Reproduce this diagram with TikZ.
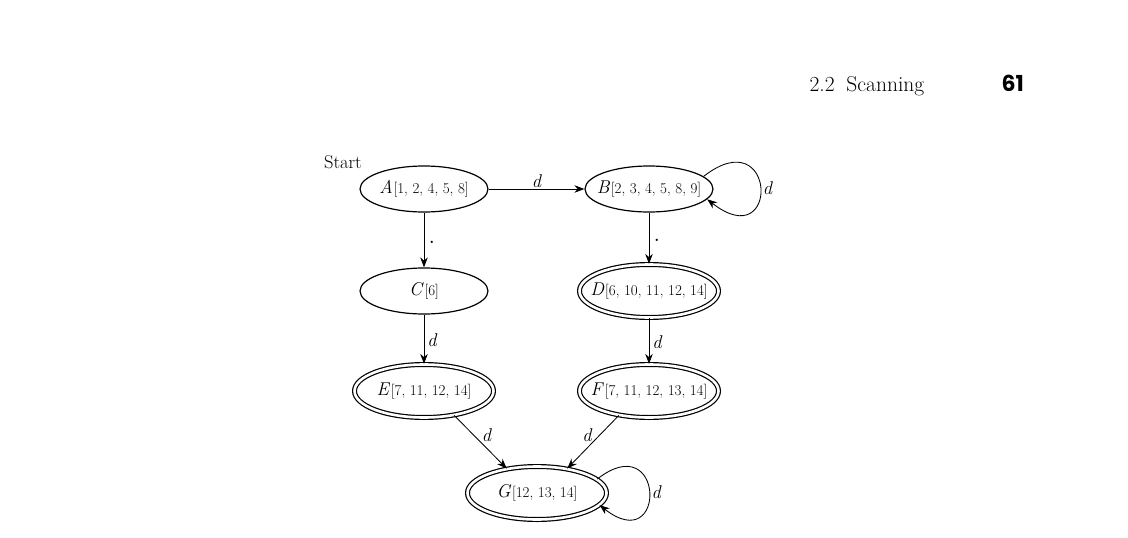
\documentclass[tikz,border=0pt]{standalone}
\usepackage{fontspec}
\newfontfamily\headsans{Poppins}
\usetikzlibrary{shapes.geometric,arrows.meta}

% state label: italic letter followed by a smaller bracketed item list
\newcommand{\statetext}[2]{\makebox[0pt][c]{{\fontsize{18.5}{20}\selectfont\itshape #1\/}\kern0.8pt{\fontsize{15}{18}\selectfont[#2]}}}

\begin{document}
\begin{tikzpicture}[x=1pt,y=-1pt,
  state/.style={ellipse, draw, line width=1.2pt, inner sep=0pt,
    minimum width=128pt, minimum height=46pt},
  accept/.style={state, double, double distance=2.6pt,
    minimum width=139pt, minimum height=53pt},
  edge/.style={-{Stealth[length=10pt,width=7.5pt]}, line width=0.85pt},
  lbl/.style={font=\fontsize{18.5}{20}\selectfont\itshape, inner sep=2pt},
  dotlbl/.style={font=\fontsize{28}{28}\selectfont, inner sep=2pt},
]
\useasboundingbox (0,0) rectangle (1128,538);

% running head
\node[anchor=base west, font=\fontsize{21.5}{24}\selectfont] (head) at (806,91) {2.2\hspace{0.55em}Scanning};
\node[anchor=base west, font=\fontsize{22}{24}\selectfont\headsans\bfseries] (page) at (998,91) {61};

% states
\node[state]  (A) at (424,189) {\statetext{A}{1, 2, 4, 5, 8}};
\node[state]  (B) at (649,189) {\statetext{B}{2, 3, 4, 5, 8, 9}};
\node[state]  (C) at (424,291) {\statetext{C}{6}};
\node[accept] (D) at (649,291) {\statetext{D}{6, 10, 11, 12, 14}};
\node[accept] (E) at (424,391) {\statetext{E}{7, 11, 12, 14}};
\node[accept] (F) at (649,391) {\statetext{F}{7, 11, 12, 13, 14}};
\node[accept] (G) at (537,493) {\statetext{G}{12, 13, 14}};

\node[font=\fontsize{18.5}{20}\selectfont] (start) at (343,162) {Start};

% transitions
\draw[edge] (A) -- node[lbl, above, yshift=-1pt] {d} (B);
\draw[edge] (A) -- node[dotlbl, right, xshift=2pt, yshift=-2pt] {.} (C);
\draw[edge] (B) -- node[dotlbl, right, xshift=2pt, yshift=-2pt] {.} (D);
\draw[edge] (C) -- node[lbl, right, xshift=1pt, yshift=-1pt] {d} (E);
\draw[edge] (D) -- node[lbl, right, xshift=1pt, yshift=-1pt] {d} (F);
\draw[edge] (E.-39) -- node[lbl, above right, xshift=-1pt, yshift=-2pt] {d} (G.141);
\draw[edge] (F.-141) -- node[lbl, above left, xshift=1pt, yshift=-2pt] {d} (G.39);

% self loops on B and G
\draw[edge] (B.13) .. controls +(38:93pt) and +(-38:93pt) .. node[lbl, right] {d} (B.-10);
\draw[edge] (G.13) .. controls +(38:86pt) and +(-38:86pt) .. node[lbl, right] {d} (G.-11);
\end{tikzpicture}
\end{document}
